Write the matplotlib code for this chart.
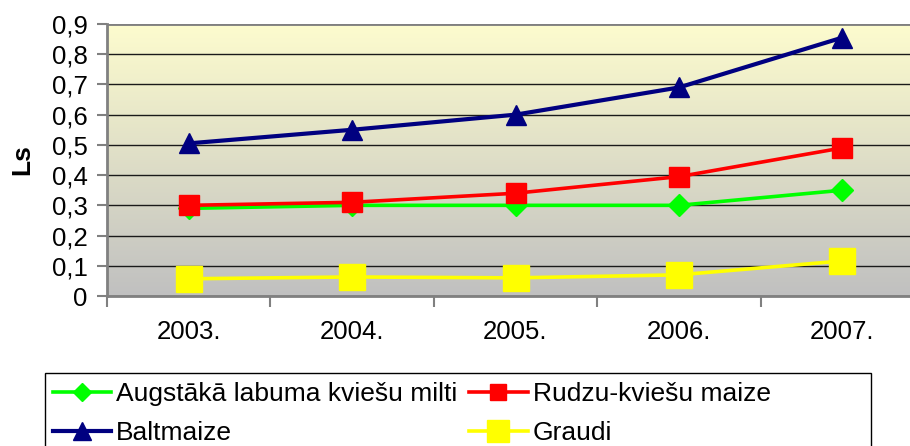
import numpy as np
import matplotlib
matplotlib.use("Agg")
import matplotlib.pyplot as plt
from matplotlib.patches import Rectangle

plt.rcParams['font.family'] = ['Liberation Sans', 'DejaVu Sans']

years = ["2003.", "2004.", "2005.", "2006.", "2007."]
augstaka = [0.29, 0.30, 0.30, 0.30, 0.35]
rudzu = [0.30, 0.31, 0.34, 0.395, 0.49]
baltmaize = [0.505, 0.55, 0.60, 0.69, 0.855]
graudi = [0.057, 0.063, 0.060, 0.070, 0.116]
yticks = [0, 0.1, 0.2, 0.3, 0.4, 0.5, 0.6, 0.7, 0.8, 0.9]
ytick_labels = ["0", "0,1", "0,2", "0,3", "0,4", "0,5", "0,6", "0,7", "0,8", "0,9"]

W, H = 910, 446
fig = plt.figure(figsize=(W / 100, H / 100), dpi=100)
ax = fig.add_axes([107 / W, 1 - 296 / H, (924 - 107) / W, (296 - 24) / H])

# gradient background
top = np.array([253, 252, 206]) / 255
bot = np.array([192, 192, 192]) / 255
t = np.linspace(0, 1, 256)[:, None]
grad = (top[None, :] * (1 - t) + bot[None, :] * t)[:, None, :]
ax.imshow(grad, extent=[0, 1, 0, 1], transform=ax.transAxes, aspect='auto', zorder=0)

x = np.arange(len(years))
l1, = ax.plot(x, augstaka, color='#00FF00', lw=2.6, marker='D', ms=11, mec='#00FF00', zorder=3)
l2, = ax.plot(x, rudzu, color='#FF0000', lw=2.6, marker='s', ms=14, mec='#FF0000', zorder=4)
l3, = ax.plot(x, baltmaize, color='#000080', lw=3, marker='^', ms=15, mec='#000080', zorder=5)
l4, = ax.plot(x, graudi, color='#FFFF00', lw=2.6, marker='s', ms=19, mec='#FFFF00', zorder=6)

ax.set_xlim(-0.5, len(years) - 0.5)
ax.set_ylim(0, 0.9)
ax.set_yticks(yticks)
ax.set_yticklabels(ytick_labels, fontsize=18.5)
ax.set_xticks(x)
ax.set_xticklabels(years, fontsize=18.5)
ax.set_xticks(np.arange(-0.5, len(years), 1), minor=True)
ax.tick_params(axis='x', which='major', length=0, pad=17)
ax.tick_params(axis='x', which='minor', length=8, width=1.5, color='#808080', direction='out')
ax.tick_params(axis='y', length=7, width=1.5, color='#808080', direction='out', pad=7)
ax.yaxis.grid(True, color='#1a1a1a', lw=1.0, zorder=1)
ax.set_axisbelow(True)
for s in ['top', 'right']:
    ax.spines[s].set_visible(False)
for s in ['left', 'bottom']:
    ax.spines[s].set_color('#808080')
    ax.spines[s].set_linewidth(2)
ax.axhline(0.9, color='#808080', lw=2, zorder=2)

fig.text(22 / W, 1 - 160 / H, "Ls", rotation=90, fontsize=19, fontweight='bold',
         ha='center', va='center')

# legend frame
fig.add_artist(Rectangle((45 / W, 1 - 470 / H), (871 - 45) / W, (470 - 373) / H,
                         transform=fig.transFigure, facecolor='white', edgecolor='#000000',
                         lw=1.0, zorder=1))

leg = fig.legend([l1, l3, l2, l4],
                 ["Augstākā labuma kviešu milti", "Baltmaize", "Rudzu-kviešu maize", "Graudi"],
                 loc='upper left', bbox_to_anchor=(53 / W, 1 - 382 / H),
                 ncol=2, fontsize=19, frameon=False,
                 handlelength=2.2, handletextpad=0.2,
                 borderpad=0, labelspacing=0.56, columnspacing=0.45, markerscale=0.85,
                 borderaxespad=0)
leg.set_zorder(2)

fig.savefig("out.png", dpi=100)
